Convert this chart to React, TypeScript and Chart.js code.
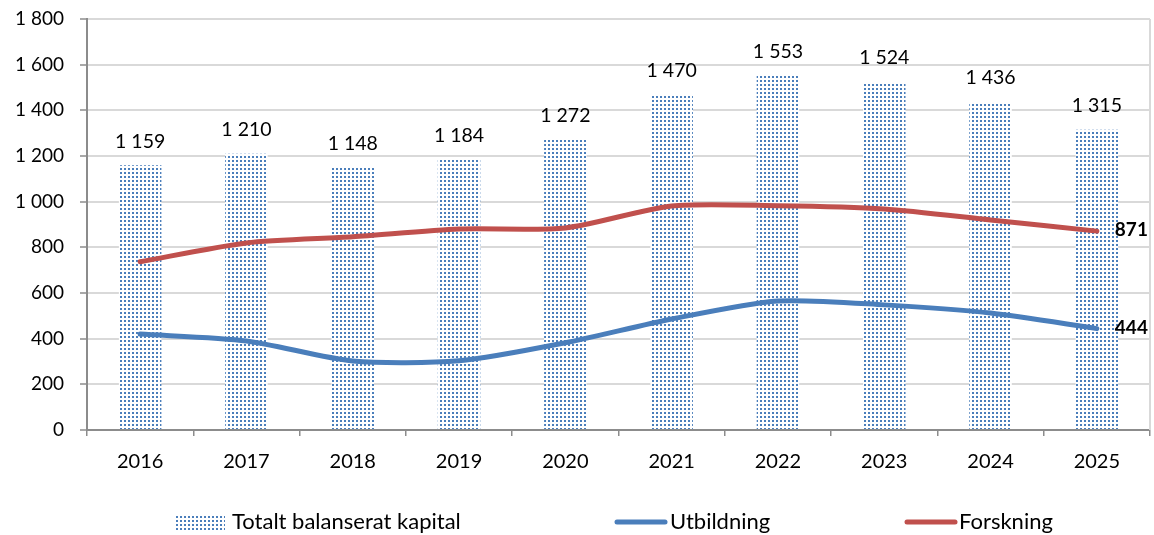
import React, { useEffect, useRef } from "react";
import { Chart, registerables } from "chart.js";

Chart.register(...registerables);

const years = ["2016", "2017", "2018", "2019", "2020", "2021", "2022", "2023", "2024", "2025"];
const totalt = [1159, 1210, 1148, 1184, 1272, 1470, 1553, 1524, 1436, 1315];
const utbildning = [420, 390, 302, 303, 382, 486, 565, 548, 512, 444];
const forskning = [737, 819, 846, 880, 885, 981, 982, 968, 920, 871];
const yTicks = [0, 200, 400, 600, 800, 1000, 1200, 1400, 1600, 1800];

const FONT = "Lato, 'Open Sans', sans-serif";
const BLUE = "#4a7ebb";
const RED = "#c0504d";

const fmt = (n: number) => String(n).replace(/\B(?=(\d{3})+(?!\d))/g, " ");

function makePattern(ctx: CanvasRenderingContext2D) {
  const c = document.createElement("canvas");
  c.width = 4;
  c.height = 4;
  const p = c.getContext("2d")!;
  p.fillStyle = "#ffffff";
  p.fillRect(0, 0, 4, 4);
  p.fillStyle = BLUE;
  p.fillRect(0, 0, 2, 2);
  return ctx.createPattern(c, "repeat")!;
}

export default function App() {
  const ref = useRef<HTMLCanvasElement | null>(null);
  useEffect(() => {
    const canvas = ref.current!;
    const ctx = canvas.getContext("2d")!;
    const pattern = makePattern(ctx);

    const labelsPlugin = {
      id: "labelsPlugin",
      afterDatasetsDraw(chart: any) {
        const c = chart.ctx;
        c.save();
        const barMeta = chart.getDatasetMeta(0);
        c.font = `19.5px ${FONT}`;
        c.fillStyle = "#000";
        c.textAlign = "center";
        c.textBaseline = "middle";
        barMeta.data.forEach((el: any, i: number) => {
          c.fillText(fmt(totalt[i]), el.x, el.y - 24);
        });
        c.font = `bold 19px ${FONT}`;
        c.textAlign = "left";
        [1, 2].forEach((di) => {
          const meta = chart.getDatasetMeta(di);
          const last = meta.data.length - 1;
          const el = meta.data[last];
          const v = chart.data.datasets[di].data[last];
          c.fillText(fmt(v), el.x + 18, el.y - 1);
        });
        c.restore();
      },
      afterDraw(chart: any) {
        const c = chart.ctx;
        const a = chart.chartArea;
        c.save();
        c.strokeStyle = "#d9d9d9";
        c.lineWidth = 2;
        c.beginPath();
        c.moveTo(a.right, a.top);
        c.lineTo(a.right, a.bottom);
        c.stroke();
        const ly = 522;
        c.fillStyle = pattern;
        c.fillRect(175, 515, 50, 15);
        c.lineCap = "round";
        c.lineWidth = 5;
        c.strokeStyle = BLUE;
        c.beginPath();
        c.moveTo(617, ly);
        c.lineTo(665, ly);
        c.stroke();
        c.strokeStyle = RED;
        c.beginPath();
        c.moveTo(907, ly);
        c.lineTo(955, ly);
        c.stroke();
        c.font = `22px ${FONT}`;
        c.fillStyle = "#000";
        c.textAlign = "left";
        c.textBaseline = "middle";
        c.fillText("Totalt balanserat kapital", 232, ly);
        c.fillText("Utbildning", 670, ly);
        c.fillText("Forskning", 959, ly);
        c.restore();
      },
    };

    const chart = new Chart(ctx, {
      type: "bar",
      data: {
        labels: years,
        datasets: [
          {
            type: "bar",
            label: "Totalt balanserat kapital",
            data: totalt,
            backgroundColor: pattern as any,
            borderWidth: 0,
            barPercentage: 0.4,
            categoryPercentage: 1,
            order: 2,
          },
          {
            type: "line",
            label: "Utbildning",
            data: utbildning,
            borderColor: BLUE,
            backgroundColor: BLUE,
            borderWidth: 5,
            pointRadius: 0,
            tension: 0.25,
            borderCapStyle: "round",
            order: 1,
          },
          {
            type: "line",
            label: "Forskning",
            data: forskning,
            borderColor: RED,
            backgroundColor: RED,
            borderWidth: 5,
            pointRadius: 0,
            tension: 0.25,
            borderCapStyle: "round",
            order: 0,
          },
        ] as any,
      },
      options: {
        animation: false,
        responsive: false,
        maintainAspectRatio: false,
        layout: { padding: { left: 0, right: 4, top: 19, bottom: 0 } },
        plugins: {
          legend: { display: false },
          tooltip: { enabled: false },
        },
        scales: {
          x: {
            offset: true,
            grid: {
              offset: true,
              drawOnChartArea: false,
              drawTicks: true,
              tickLength: 6,
              color: "#8c8c8c",
              lineWidth: 1.5,
            },
            border: { color: "#8c8c8c", width: 2 },
            ticks: {
              color: "#000",
              font: { family: FONT, size: 20 },
              padding: 14,
            },
            afterFit(scale: any) {
              scale.height = 105;
              scale.paddingLeft = 0;
              scale.paddingRight = 0;
            },
          },
          y: {
            min: 0,
            max: 1800,
            afterBuildTicks(scale: any) {
              scale.ticks = yTicks.map((v) => ({ value: v }));
            },
            grid: {
              color: "#d9d9d9",
              lineWidth: 2,
              tickLength: 7,
              tickColor: "#8c8c8c",
              tickWidth: 1.5,
            },
            border: { color: "#8c8c8c", width: 2 },
            ticks: {
              color: "#000",
              font: { family: FONT, size: 19 },
              padding: 16,
              callback: (v: any) => fmt(Number(v)),
            },
            afterFit(scale: any) {
              scale.width = 87;
              scale.paddingTop = 0;
              scale.paddingBottom = 0;
            },
          },
        },
      },
      plugins: [labelsPlugin],
    } as any);
    return () => chart.destroy();
  }, []);

  return (
    <div style={{ position: "fixed", left: 0, top: 0, width: 1154, height: 535, background: "#fff" }}>
      <canvas ref={ref} width={1154} height={535} style={{ width: 1154, height: 535 }} />
    </div>
  );
}
